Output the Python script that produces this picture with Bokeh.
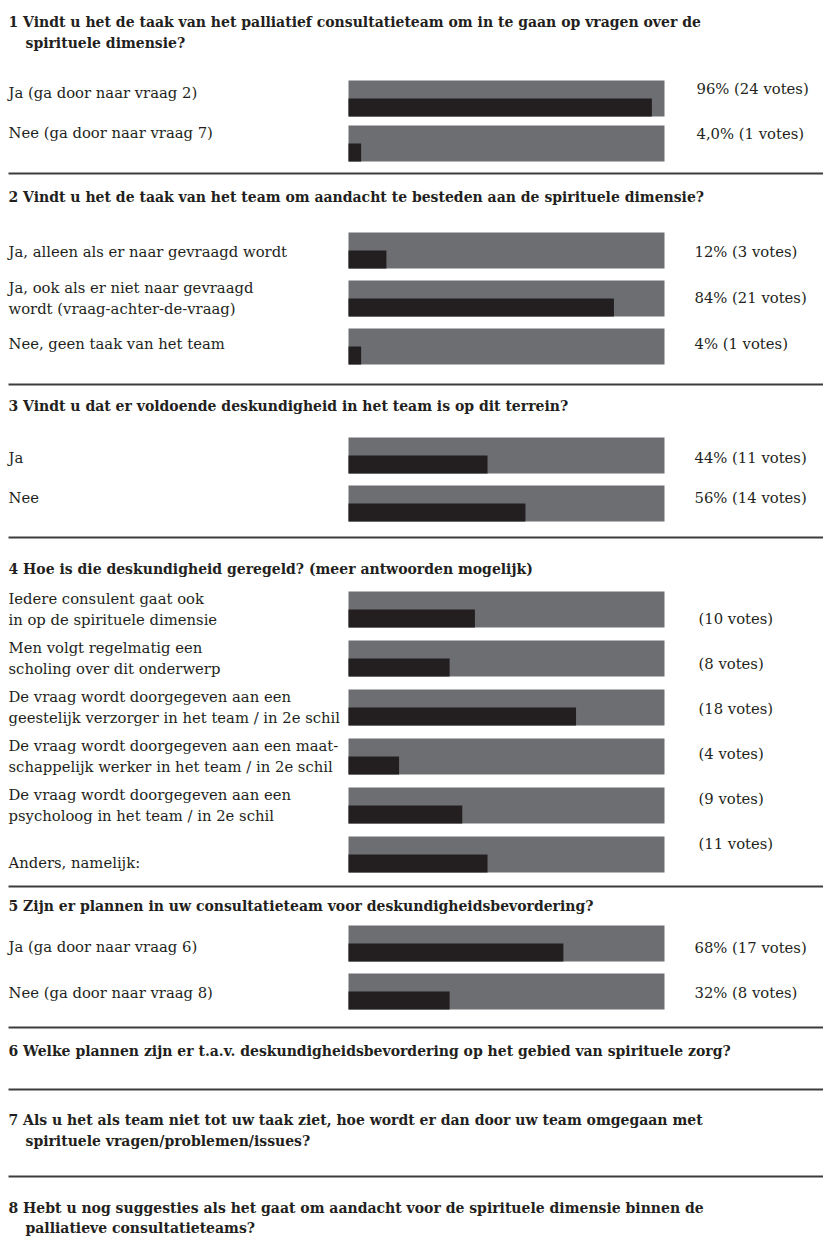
from bokeh.plotting import figure
from bokeh.models import Range1d
from bokeh.embed import file_html
from bokeh.resources import INLINE
from bokeh.core.properties import value

# ---------------- data ----------------
titles = [
    ["1 Vindt u het de taak van het palliatief consultatieteam om in te gaan op vragen over de",
     "spirituele dimensie?"],
    ["2 Vindt u het de taak van het team om aandacht te besteden aan de spirituele dimensie?"],
    ["3 Vindt u dat er voldoende deskundigheid in het team is op dit terrein?"],
    ["4 Hoe is die deskundigheid geregeld? (meer antwoorden mogelijk)"],
    ["5 Zijn er plannen in uw consultatieteam voor deskundigheidsbevordering?"],
    ["6 Welke plannen zijn er t.a.v. deskundigheidsbevordering op het gebied van spirituele zorg?"],
    ["7 Als u het als team niet tot uw taak ziet, hoe wordt er dan door uw team omgegaan met",
     "spirituele vragen/problemen/issues?"],
    ["8 Hebt u nog suggesties als het gaat om aandacht voor de spirituele dimensie binnen de",
     "palliatieve consultatieteams?"],
]

q1_answers = ["Ja (ga door naar vraag 2)", "Nee (ga door naar vraag 7)"]
q1_pct = [96, 4]
q1_labels = ["96% (24 votes)", "4,0% (1 votes)"]

q2_answers = ["Ja, alleen als er naar gevraagd wordt",
              "Ja, ook als er niet naar gevraagd\nwordt (vraag-achter-de-vraag)",
              "Nee, geen taak van het team"]
q2_pct = [12, 84, 4]
q2_labels = ["12% (3 votes)", "84% (21 votes)", "4% (1 votes)"]

q3_answers = ["Ja", "Nee"]
q3_pct = [44, 56]
q3_labels = ["44% (11 votes)", "56% (14 votes)"]

q4_answers = ["Iedere consulent gaat ook\nin op de spirituele dimensie",
              "Men volgt regelmatig een\nscholing over dit onderwerp",
              "De vraag wordt doorgegeven aan een\ngeestelijk verzorger in het team / in 2e schil",
              "De vraag wordt doorgegeven aan een maat-\nschappelijk werker in het team / in 2e schil",
              "De vraag wordt doorgegeven aan een\npsycholoog in het team / in 2e schil",
              "Anders, namelijk:"]
q4_votes = [10, 8, 18, 4, 9, 11]
q4_respondents = 25
q4_pct = [v * 100 / q4_respondents for v in q4_votes]
q4_labels = ["(10 votes)", "(8 votes)", "(18 votes)", "(4 votes)", "(9 votes)", "(11 votes)"]

q5_answers = ["Ja (ga door naar vraag 6)", "Nee (ga door naar vraag 8)"]
q5_pct = [68, 32]
q5_labels = ["68% (17 votes)", "32% (8 votes)"]

# ---------------- layout (pixels) ----------------
W, H = 823, 1237
BAR_L, BAR_R = 348, 664
S = (BAR_R - BAR_L) / 100.0  # px per percent


def px(xp):
    return (xp - BAR_L) / S


GREY = "#6d6e71"
BLACK = "#231f20"
TXT = "#231f20"
FONT = value("DejaVu Serif")
FS = "14.8px"
FS_B = "14px"

p = figure(width=W, height=H, x_range=Range1d(px(0), px(W)), y_range=Range1d(H, 0),
           output_backend="svg", toolbar_location=None, min_border=0,
           x_axis_location=None, y_axis_location=None)
p.grid.visible = False
p.outline_line_color = None

# question blocks: (answers, pct, labels, bar tops, left-label y (first line), right-label y)
q4_tops = [591 + 49 * i for i in range(6)]
blocks = [
    (q1_answers, q1_pct, q1_labels, [80, 125], [92, 132], [88, 133]),
    (q2_answers, q2_pct, q2_labels, [232, 280, 328], [251, 287, 343], [251, 297, 343]),
    (q3_answers, q3_pct, q3_labels, [437, 485], [457, 497], [457, 497]),
    (q4_answers, q4_pct, q4_labels, q4_tops,
     [t + 7 for t in q4_tops[:5]] + [862], [618 + 45 * i for i in range(6)]),
    (q5_answers, q5_pct, q5_labels, [925, 973], [946, 992], [947, 992]),
]
label_x = {0: 696, 1: 694, 2: 694, 3: 698, 4: 694}
LINE_GAP = 21

gy, by, bp = [], [], []
lx, ly, lt = [], [], []
rx, ry, rt = [], [], []
for bi, (ans, pct, labs, tops, lys, rys) in enumerate(blocks):
    for a, v, lab, t, l0, r in zip(ans, pct, labs, tops, lys, rys):
        gy.append(t + 18)
        by.append(t + 27)
        bp.append(v)
        for k, ln in enumerate(a.split("\n")):
            lx.append(px(8)); ly.append(l0 + k * LINE_GAP); lt.append(ln)
        rx.append(px(label_x[bi])); ry.append(r); rt.append(lab)

p.hbar(y=gy, height=36, left=0, right=100, fill_color=GREY, line_color=None)
p.hbar(y=by, height=18, left=0, right=bp, fill_color=BLACK, line_color=None)

p.text(x=lx, y=ly, text=lt, text_font=FONT, text_font_size=FS, text_color=TXT,
       text_baseline="middle", text_align="left")
p.text(x=rx, y=ry, text=rt, text_font=FONT, text_font_size=FS, text_color=TXT,
       text_baseline="middle", text_align="left")

# titles
title_y = [[21, 42], [196], [405], [568], [905], [1050], [1119, 1140], [1207, 1227]]
tx, ty, tt = [], [], []
for lines, ys in zip(titles, title_y):
    for i, (ln, yy) in enumerate(zip(lines, ys)):
        tx.append(px(8 if i == 0 else 25)); ty.append(yy); tt.append(ln)
p.text(x=tx, y=ty, text=tt, text_font=FONT, text_font_size=FS_B, text_font_style="bold",
       text_color=TXT, text_baseline="middle", text_align="left")

# separators
sep_y = [173, 384, 537, 886, 1027, 1089, 1176]
p.segment(x0=[px(8)] * len(sep_y), x1=[px(W)] * len(sep_y), y0=sep_y, y1=sep_y,
          line_color="#3c3c3e", line_width=2)

open("out.html", "w").write(file_html(p, INLINE))
